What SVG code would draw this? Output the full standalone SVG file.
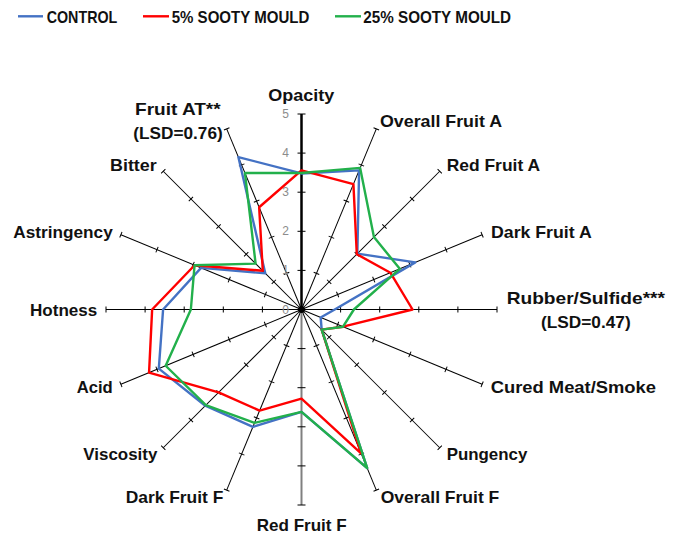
<svg xmlns="http://www.w3.org/2000/svg" xmlns:xlink="http://www.w3.org/1999/xlink" width="678" height="535" viewBox="0 0 678 535">
<style>
.lbl{font-family:"Liberation Sans",Arial,sans-serif;font-weight:bold;font-size:17px;fill:#111}
.val{font-family:"Liberation Sans",Arial,sans-serif;font-size:12px;fill:#8c8c8c;text-anchor:end}
.ax{stroke:#000;stroke-width:1;fill:none}
.s{fill:none;stroke-width:2.4;stroke-linejoin:round}
.blue{stroke:#4472C4}.red{stroke:#FF0000}.green{stroke:#22B04B}
</style>
<defs>
<g id="axis" class="ax">
<line x1="301.5" y1="309.5" x2="301.5" y2="114"/>
<path d="M298.5 270.4H304.5M298.5 231.3H304.5M298.5 192.2H304.5M298.5 153.1H304.5M298.5 114H304.5"/>
</g>
</defs>
<rect width="678" height="535" fill="#fff"/>
<g id="legend">
<line x1="18" y1="16.3" x2="43" y2="16.3" class="blue" stroke-width="2.4"/>
<text class="lbl" x="46.7" y="23.3" textLength="70.6" lengthAdjust="spacingAndGlyphs">CONTROL</text>
<line x1="143" y1="16.3" x2="169" y2="16.3" class="red" stroke-width="2.4"/>
<text class="lbl" x="171.7" y="23.3" textLength="137.6" lengthAdjust="spacingAndGlyphs">5% SOOTY MOULD</text>
<line x1="335" y1="16.3" x2="361" y2="16.3" class="green" stroke-width="2.4"/>
<text class="lbl" x="363.3" y="23.3" textLength="147.7" lengthAdjust="spacingAndGlyphs">25% SOOTY MOULD</text>
</g>
<g id="axes">
<use xlink:href="#axis" transform="rotate(22.5 301.5 309.5)"/>
<use xlink:href="#axis" transform="rotate(45 301.5 309.5)"/>
<use xlink:href="#axis" transform="rotate(67.5 301.5 309.5)"/>
<use xlink:href="#axis" transform="rotate(90 301.5 309.5)"/>
<use xlink:href="#axis" transform="rotate(112.5 301.5 309.5)"/>
<use xlink:href="#axis" transform="rotate(135 301.5 309.5)"/>
<use xlink:href="#axis" transform="rotate(157.5 301.5 309.5)"/>
<use xlink:href="#axis" transform="rotate(202.5 301.5 309.5)"/>
<use xlink:href="#axis" transform="rotate(225 301.5 309.5)"/>
<use xlink:href="#axis" transform="rotate(247.5 301.5 309.5)"/>
<use xlink:href="#axis" transform="rotate(270 301.5 309.5)"/>
<use xlink:href="#axis" transform="rotate(292.5 301.5 309.5)"/>
<use xlink:href="#axis" transform="rotate(315 301.5 309.5)"/>
<use xlink:href="#axis" transform="rotate(337.5 301.5 309.5)"/>
<line x1="301.5" y1="309.5" x2="301.5" y2="505" stroke="#808080" stroke-width="2"/>
<path d="M297.5 348.6H305.5M297.5 387.7H305.5M297.5 426.8H305.5M297.5 465.9H305.5M297.5 505H305.5" stroke="#000" stroke-width="1"/>
<line x1="301.5" y1="309.5" x2="301.5" y2="114" stroke="#000" stroke-width="2.5"/>
<path d="M297.5 270.4H305.5M297.5 231.3H305.5M297.5 192.2H305.5M297.5 153.1H305.5M297.5 114H305.5" stroke="#000" stroke-width="1"/>
<circle cx="301.5" cy="309.5" r="3.5" fill="#000"/>
<text class="val" x="289" y="313.5">0</text>
<text class="val" x="289" y="274.4">1</text>
<text class="val" x="289" y="235.3">2</text>
<text class="val" x="289" y="196.2">3</text>
<text class="val" x="289" y="157.1">4</text>
<text class="val" x="289" y="118">5</text>
</g>
<g id="series">
<polygon id="control" class="s blue" points="301.5,173.43 359.11,170.42 357.35,253.65 415.29,262.37 334.74,309.5 320.65,317.43 321.68,329.68 367.19,468.09 301.5,411.94 252.87,426.9 205.28,405.72 158.81,368.61 163.09,309.5 201.08,267.9 265.28,273.28 238.36,157.06"/>
<polygon id="sooty5" class="s red" points="301.5,170.3 353.42,184.15 356.8,254.2 390.37,272.69 412.54,309.5 343.05,326.71 321.68,329.68 361.05,453.27 301.5,398.65 259.6,410.65 218.56,392.44 149.06,372.64 152.14,309.5 194.57,265.21 262.79,270.79 259.15,207.27"/>
<polygon id="sooty25" class="s green" points="301.5,173.04 360.15,167.9 373.94,237.06 399.76,268.8 353.89,309.5 343.05,326.71 321.68,329.68 367.19,468.09 301.5,411.94 254.52,422.93 205.84,405.16 165.67,365.76 190.85,309.5 194.57,265.21 255.6,263.6 244.94,172.95"/>
</g>
<g id="labels">
<g id="n-opacity"><text class="lbl" x="268.3" y="101" textLength="66" lengthAdjust="spacingAndGlyphs">Opacity</text></g>
<g id="n-ofa"><text class="lbl" x="380" y="126.7" textLength="122" lengthAdjust="spacingAndGlyphs">Overall Fruit A</text></g>
<g id="n-rfa"><text class="lbl" x="446.7" y="170.7" textLength="93.3" lengthAdjust="spacingAndGlyphs">Red Fruit A</text></g>
<g id="n-dfa"><text class="lbl" x="491" y="237.7" textLength="100.7" lengthAdjust="spacingAndGlyphs">Dark Fruit A</text></g>
<g id="n-rubber"><text class="lbl" x="506.7" y="303.5" textLength="158.3" lengthAdjust="spacingAndGlyphs">Rubber/Sulfide***</text>
<text class="lbl" x="541" y="327.5" textLength="89.7" lengthAdjust="spacingAndGlyphs">(LSD=0.47)</text></g>
<g id="n-cured"><text class="lbl" x="490.7" y="393.3" textLength="165.3" lengthAdjust="spacingAndGlyphs">Cured Meat/Smoke</text></g>
<g id="n-pungency"><text class="lbl" x="446.7" y="460" textLength="80.6" lengthAdjust="spacingAndGlyphs">Pungency</text></g>
<g id="n-off"><text class="lbl" x="380.7" y="503.3" textLength="118.6" lengthAdjust="spacingAndGlyphs">Overall Fruit F</text></g>
<g id="n-rff"><text class="lbl" x="256.7" y="531" textLength="90" lengthAdjust="spacingAndGlyphs">Red Fruit F</text></g>
<g id="n-dff"><text class="lbl" x="125.7" y="503.3" textLength="97.6" lengthAdjust="spacingAndGlyphs">Dark Fruit F</text></g>
<g id="n-viscosity"><text class="lbl" x="83.3" y="460" textLength="74" lengthAdjust="spacingAndGlyphs">Viscosity</text></g>
<g id="n-acid"><text class="lbl" x="76.7" y="393.3" textLength="36" lengthAdjust="spacingAndGlyphs">Acid</text></g>
<g id="n-hotness"><text class="lbl" x="30" y="316" textLength="67.3" lengthAdjust="spacingAndGlyphs">Hotness</text></g>
<g id="n-astringency"><text class="lbl" x="13.3" y="237.7" textLength="99.4" lengthAdjust="spacingAndGlyphs">Astringency</text></g>
<g id="n-bitter"><text class="lbl" x="110" y="170.7" textLength="46.7" lengthAdjust="spacingAndGlyphs">Bitter</text></g>
<g id="n-fruitat"><text class="lbl" x="135" y="115" textLength="85.7" lengthAdjust="spacingAndGlyphs">Fruit AT**</text>
<text class="lbl" x="133.3" y="139.3" textLength="89.4" lengthAdjust="spacingAndGlyphs">(LSD=0.76)</text></g>
</g>
</svg>
